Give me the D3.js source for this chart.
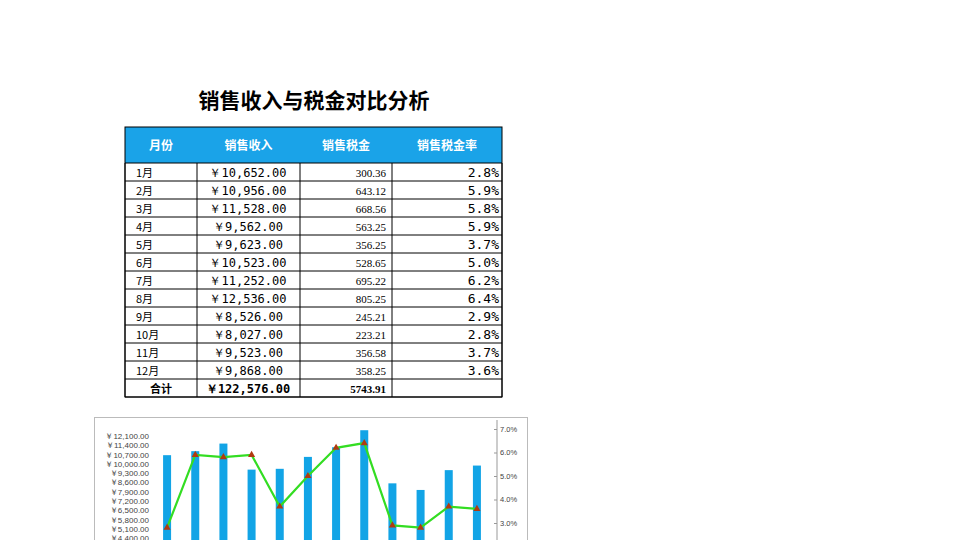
<!DOCTYPE html><html><head><meta charset="utf-8"><script src="https://cdn.jsdelivr.net/npm/d3@7"></script>
<style>body{margin:0;background:#fff}</style></head><body><svg id="c" width="960" height="540"></svg><script>
const months=["1月","2月","3月","4月","5月","6月","7月","8月","9月","10月","11月","12月"];
const revenue=[10652,10956,11528,9562,9623,10523,11252,12536,8526,8027,9523,9868];
const tax=[300.36,643.12,668.56,563.25,356.25,528.65,695.22,805.25,245.21,223.21,356.58,358.25];
const rate=[2.8,5.9,5.8,5.9,3.7,5.0,6.2,6.4,2.9,2.8,3.7,3.6];
const headers=["月份","销售收入","销售税金","销售税金率"];
const leftTicks=[4400,5100,5800,6500,7200,7900,8600,9300,10000,10700,11400,12100];
const rightTicks=[3,4,5,6,7];
const svg=d3.select("#c");
const F="'Noto Sans CJK SC',sans-serif";
svg.append("text").attr("x",314).attr("y",108).attr("text-anchor","middle").attr("font-family",F).attr("font-weight","bold").attr("font-size",21).text("销售收入与税金对比分析");
const colX=[125,197,300,392,502];
svg.append("rect").attr("x",125).attr("y",127).attr("width",377).attr("height",36).attr("fill","#1aa3e8");
headers.forEach((h,i)=>svg.append("text").attr("x",(colX[i]+colX[i+1])/2).attr("y",150).attr("text-anchor","middle").attr("fill","#fff").attr("font-family",F).attr("font-weight","bold").attr("font-size",12).text(h));
const rowY=d3.scaleLinear().domain([0,13]).range([163,397]);
const fmt=d3.format(",.2f");
const rows=months.map((m,i)=>[m,"￥"+fmt(revenue[i]),tax[i].toFixed(2),rate[i].toFixed(1)+"%"]);
rows.push(["合计","￥"+fmt(d3.sum(revenue)),d3.sum(tax).toFixed(2),""]);
rows.forEach((r,j)=>{
 const y=rowY(j)+13.5, b=j===12;
 const t=(x,a,s,fs,ff)=>svg.append("text").attr("x",x).attr("y",y).attr("text-anchor",a).attr("font-family",ff||F).attr("font-size",fs).attr("font-weight",b?"bold":"normal").text(s);
 t(b?161:136,b?"middle":"start",r[0],11);
 t(248,"middle",r[1],12,"'DejaVu Sans Mono',monospace");
 t(386,"end",r[2],11,"'Liberation Serif',serif");
 t(499,"end",r[3],13,"'DejaVu Sans Mono',monospace");
});
const g=svg.append("g").attr("stroke","#000").attr("stroke-width",1);
for(let j=0;j<=13;j++)g.append("line").attr("x1",125).attr("x2",502).attr("y1",rowY(j)).attr("y2",rowY(j));
colX.forEach(x=>g.append("line").attr("x1",x).attr("x2",x).attr("y1",163).attr("y2",397));
svg.append("rect").attr("x",125).attr("y",127).attr("width",377).attr("height",270).attr("fill","none").attr("stroke","#000");
// chart
svg.append("rect").attr("x",94.5).attr("y",417.5).attr("width",433).attr("height",140).attr("fill","#fff").attr("stroke","#bbb");
const x=d3.scalePoint().domain(months).range([153,491]).padding(0.5);
const bw=8;
const yL=d3.scaleLinear().domain([4400,12100]).range([538,436]);
const yR=d3.scaleLinear().domain([3,7]).range([523,429]);
const ax=svg.append("g").attr("transform","translate(152,0)").call(d3.axisLeft(yL).tickValues(leftTicks).tickSize(0).tickFormat(d=>"￥"+fmt(d)));
ax.select(".domain").remove();ax.selectAll("text").attr("font-size",8).attr("font-family","'Liberation Sans',sans-serif").attr("fill","#444");
const ar=svg.append("g").attr("transform","translate(494,0)").call(d3.axisRight(yR).tickValues(rightTicks).tickSize(3).tickFormat(d=>d.toFixed(1)+"%"));
ar.select(".domain").attr("stroke","#999").attr("d","M3,420V540");ar.selectAll("line").attr("stroke","#999");
ar.selectAll("text").attr("font-size",7.5).attr("font-family","'Liberation Sans',sans-serif").attr("fill","#444");
svg.selectAll(".bar").data(revenue).join("rect").attr("x",(d,i)=>x(months[i])-bw/2).attr("width",bw).attr("y",d=>yL(d)).attr("height",d=>600-yL(d)).attr("fill","#12a4e6");
const cx=i=>x(months[i]);
svg.append("path").datum(rate).attr("fill","none").attr("stroke","#33dd22").attr("stroke-width",2.2).attr("d",d3.line().x((d,i)=>cx(i)).y(d=>yR(d)));
svg.selectAll(".m").data(rate).join("path").attr("transform",(d,i)=>`translate(${cx(i)},${yR(d)})`).attr("d",d3.symbol(d3.symbolTriangle,22)).attr("fill","#b03a10");
</script></body></html>
